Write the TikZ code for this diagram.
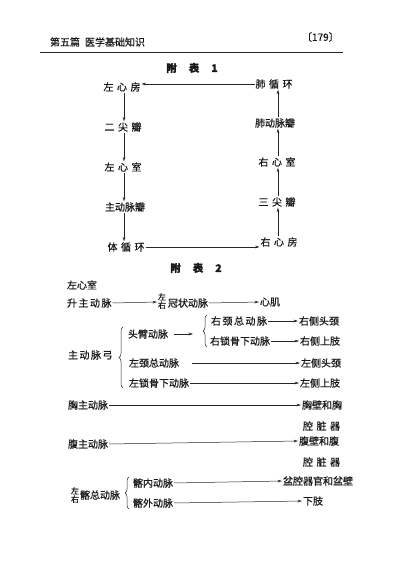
\documentclass[tikz,border=0pt]{standalone}
\usepackage{fontspec}
\setmainfont{Noto Sans CJK SC}[FakeBold=0.6]
\usetikzlibrary{arrows.meta,decorations.pathreplacing}
\newcommand{\gp}{\hspace{3.5pt}}
\newcommand{\gq}{\hspace{1.5pt}}
\begin{document}
\begin{tikzpicture}[x=1pt,y=1pt,
  every node/.style={inner sep=0pt,outer sep=0pt,font=\fontsize{10}{12}\selectfont,text=black!90},
  lt/.style={anchor=west},
  ct/.style={anchor=center},
  arr/.style={-{Stealth[length=4.5pt,width=2.6pt]},line width=0.5pt,black!85,shorten >=1pt,shorten <=1pt},
  brc/.style={decorate,decoration={brace,amplitude=4pt},line width=0.5pt,black!85},
  ttl/.style={anchor=center,font=\fontsize{10.5}{12}\selectfont\bfseries}]
\useasboundingbox (0,0) rectangle (400,-583);
\fill[white] (0,0) rectangle (400,-583);
% header
\node[lt] (h1) at (50,-42) {第五篇};
\node[lt] (h2) at (85,-42) {医学基础知识};
\node[lt] (h3) at (302,-37) {〔179〕};
\draw[line width=1pt,black!85] (40,-53) -- (343,-53);
% table 1
\node[ttl] (t1) at (192,-68) {附\hspace{12pt}表\hspace{12pt}1};
\node[ct] (lxf) at (122,-87) {左\gp 心\gp 房};
\node[ct] (exb) at (123,-127) {二\gp 尖\gp 瓣};
\node[ct] (lxs) at (123,-167) {左\gp 心\gp 室};
\node[ct] (zdb) at (125,-207) {主动脉瓣};
\node[ct] (txh) at (126,-247) {体\gp 循\gp 环};
\node[ct] (fxh) at (274,-84) {肺\gp 循\gp 环};
\node[ct] (fdb) at (275,-123) {肺动脉瓣};
\node[ct] (rxs) at (277,-162) {右\gp 心\gp 室};
\node[ct] (sjb) at (277,-202) {三\gp 尖\gp 瓣};
\node[ct] (rxf) at (279,-242) {右\gp 心\gp 房};
\coordinate (L) at (124,0);
\coordinate (R) at (278,0);
\draw[arr] (lxf.south -| L) -- (exb.north -| L);
\draw[arr] (exb.south -| L) -- (lxs.north -| L);
\draw[arr] (lxs.south -| L) -- (zdb.north -| L);
\draw[arr] (zdb.south -| L) -- (txh.north -| L);
\draw[arr] (txh.east) -- (txh.east -| rxf.west);
\draw[arr] (rxf.north -| R) -- (sjb.south -| R);
\draw[arr] (sjb.north -| R) -- (rxs.south -| R);
\draw[arr] (rxs.north -| R) -- (fdb.south -| R);
\draw[arr] (fdb.north -| R) -- (fxh.south -| R);
\draw[arr] (fxh.west) -- (fxh.west -| lxf.east);
% table 2
\node[ttl] (t2) at (196,-268) {附\hspace{12pt}表\hspace{12pt}2};
\node[lt] (lxs2) at (67,-285) {左心室};
\node[lt] (szd) at (67,-303) {升\gq 主\gq 动\gq 脉};
\node[lt,font=\fontsize{8}{8.5}\selectfont] (zy) at (158,-302) {\begin{tabular}{@{}c@{}}左\\[-1pt]右\end{tabular}};
\node[lt] (gzd) at (168,-303) {冠状动脉};
\node[lt] (xj) at (260,-302) {心肌};
\draw[arr] (szd.east) -- (zy.west);
\draw[arr] (gzd.east) -- (xj.west);
% arch
\node[lt] (zdg) at (68,-355) {主\gq 动\gq 脉\gq 弓};
\node[lt] (tbd) at (128,-334) {头臂动脉};
\coordinate (tbe) at (194,-334);
\draw[arr] ([xshift=5pt]tbd.east) -- (tbe);
\node[lt] (ryz) at (211,-321) {右\gq 颈\gq 总\gq 动\gq 脉};
\node[lt] (rsg) at (210,-341) {右锁骨下动脉};
\node[lt] (rtj) at (299,-321) {右侧头颈};
\node[lt] (rsz) at (300,-341) {右侧上肢};
\draw[arr] (ryz.east) -- (rtj.west);
\draw[arr] (rsg.east) -- (rsz.west);
\node[lt] (lyz) at (129,-363) {左颈总动脉};
\node[lt] (lsg) at (129,-383) {左锁骨下动脉};
\node[lt] (ltj) at (301,-363) {左侧头颈};
\node[lt] (lsz) at (300,-383) {左侧上肢};
\draw[arr] ([xshift=12pt]lyz.east) -- (ltj.west);
\draw[arr] (lsg.east) -- (lsz.west);
\draw[brc] (123,-388) -- (123,-327);
\draw[brc] (207,-347) -- (207,-315);
% thoracic / abdominal
\node[lt] (xzd) at (68,-405) {胸主动脉};
\node[lt] (xbh) at (302,-405) {胸壁和胸};
\node[lt] (qzq1) at (303,-426) {腔\gp 脏\gp 器};
\draw[arr] (xzd.east) -- (xbh.west);
\node[lt] (fzd) at (68,-444) {腹主动脉};
\node[lt] (fbh) at (299,-441) {腹壁和腹};
\node[lt] (qzq2) at (303,-462) {腔\gp 脏\gp 器};
\draw[arr] (fzd.east) -- (fbh.west);
% iliac
\node[lt,font=\fontsize{8}{8.5}\selectfont] (zy2) at (71,-496) {\begin{tabular}{@{}c@{}}左\\[-1pt]右\end{tabular}};
\node[lt] (qzd) at (80,-495) {髂总动脉};
\node[lt] (qnd) at (133,-483) {髂内动脉};
\node[lt] (qwd) at (133,-503) {髂外动脉};
\node[lt] (pq) at (283,-481) {盆腔器官和盆壁};
\node[lt] (xz) at (303,-501) {下肢};
\draw[arr] (qnd.east) -- (pq.west);
\draw[arr] (qwd.east) -- (xz.west);
\draw[brc] (129,-509) -- (129,-477);
\end{tikzpicture}
\end{document}
